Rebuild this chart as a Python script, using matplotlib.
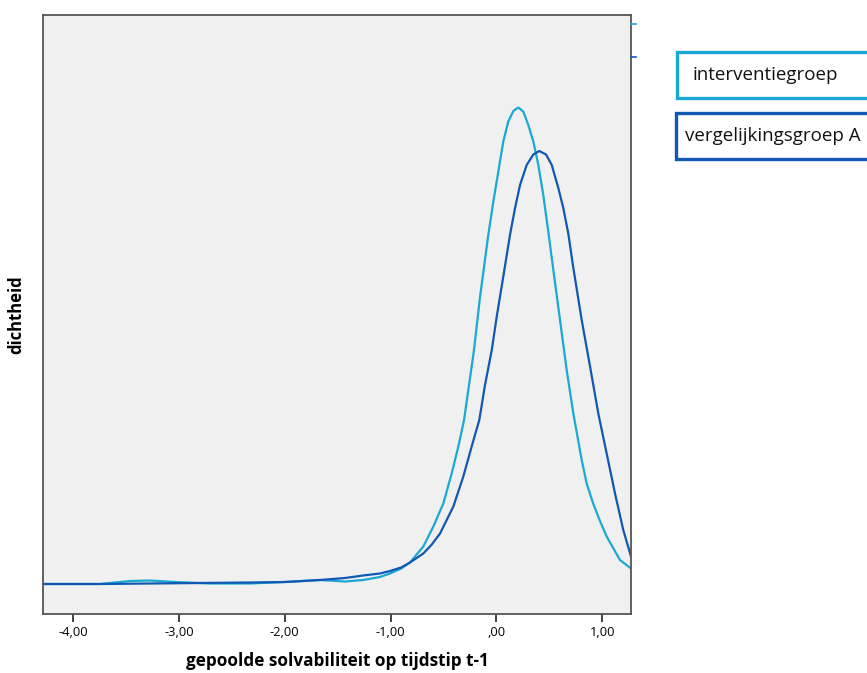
import matplotlib
matplotlib.use('Agg')
import matplotlib.pyplot as plt
from matplotlib.patches import Rectangle
from matplotlib.lines import Line2D

plt.rcParams['font.family'] = ['Open Sans', 'DejaVu Sans']

# kernel density curves (x = solvability, y = density)
interventie_x = [-4.282, -3.746, -3.462, -3.273, -3.037, -2.706, -2.328, -1.997, -1.666, -1.430,
                 -1.260, -1.100, -1.005, -0.900, -0.816, -0.690, -0.595, -0.501, -0.422, -0.359,
                 -0.305, -0.258, -0.211, -0.154, -0.076, -0.028, 0.019, 0.066, 0.113, 0.161,
                 0.208, 0.255, 0.302, 0.350, 0.397, 0.444, 0.491, 0.539, 0.602, 0.665,
                 0.728, 0.807, 0.854, 0.917, 0.980, 1.043, 1.169, 1.273]
interventie_y = [0.000, 0.000, 0.006, 0.007, 0.004, 0.001, 0.001, 0.004, 0.008, 0.005,
                 0.008, 0.014, 0.021, 0.031, 0.043, 0.075, 0.115, 0.161, 0.221, 0.275,
                 0.328, 0.398, 0.468, 0.574, 0.698, 0.765, 0.825, 0.885, 0.925, 0.946,
                 0.953, 0.945, 0.918, 0.885, 0.838, 0.778, 0.705, 0.628, 0.528, 0.428,
                 0.341, 0.248, 0.201, 0.160, 0.126, 0.095, 0.048, 0.031]

vergelijking_x = [-4.282, -3.746, -3.273, -2.801, -2.328, -1.997, -1.666, -1.430, -1.260, -1.100,
                  -1.005, -0.900, -0.816, -0.690, -0.610, -0.532, -0.406, -0.312, -0.233, -0.161,
                  -0.107, -0.043, 0.004, 0.066, 0.129, 0.177, 0.224, 0.287, 0.350, 0.406,
                  0.470, 0.524, 0.586, 0.633, 0.681, 0.728, 0.807, 0.886, 0.964, 1.043,
                  1.122, 1.200, 1.273]
vergelijking_y = [0.000, 0.000, 0.001, 0.002, 0.003, 0.004, 0.008, 0.012, 0.017, 0.021,
                  0.026, 0.033, 0.043, 0.061, 0.079, 0.101, 0.155, 0.215, 0.275, 0.328,
                  0.398, 0.468, 0.535, 0.615, 0.698, 0.752, 0.798, 0.838, 0.859, 0.866,
                  0.859, 0.838, 0.792, 0.752, 0.700, 0.632, 0.528, 0.435, 0.341, 0.261,
                  0.181, 0.108, 0.055]

xticks = [-4, -3, -2, -1, 0, 1]
xticklabels = ['-4,00', '-3,00', '-2,00', '-1,00', ',00', '1,00']
labels = ['interventiegroep', 'vergelijkingsgroep A']
light = '#1aa8d5'
dark = '#1158b2'

W, H = 867, 673
fig = plt.figure(figsize=(W / 100, H / 100), dpi=100)
ax = fig.add_axes([43.3 / W, 59 / H, 587.7 / W, 599 / H])
ax.set_facecolor('#f0f0f0')

ax.plot(interventie_x, interventie_y, color=light, lw=1.6, solid_joinstyle='round')
ax.plot(vergelijking_x, vergelijking_y, color=dark, lw=1.6, solid_joinstyle='round')

ax.set_xlim(-4.282, 1.273)
ax.set_ylim(-0.06, 1.138)
ax.set_xticks(xticks)
ax.set_xticklabels(xticklabels, fontsize=9.3)
ax.set_yticks([])
ax.tick_params(axis='x', length=5.5, width=1.3, color='#333333', pad=3.5)
for s in ax.spines.values():
    s.set_color('#555555')
    s.set_linewidth(1.3)

ax.set_xlabel('gepoolde solvabiliteit op tijdstip t-1', fontsize=12.3, fontweight='bold')
ax.xaxis.set_label_coords(0.5, -0.064)
ax.set_ylabel('dichtheid', fontsize=12, fontweight='bold')
ax.yaxis.set_label_coords(-0.03, 0.5)

# legend boxes at the right, partially clipped like the original
boxes = [(677, 52, 98, light, 693), (676, 113, 159, dark, 685)]
for (x0, y0, y1, c, tx), lab in zip(boxes, labels):
    fig.patches.append(Rectangle((x0 / W, 1 - y1 / H), (W + 10 - x0) / W, (y1 - y0) / H,
                                 transform=fig.transFigure, facecolor='white',
                                 edgecolor=c, lw=2.4, clip_on=False))
    fig.text(tx / W, 1 - (y0 + y1) / 2 / H, lab,
             fontsize=13.5, va='center', ha='left', color='#111111')

# small marks at the right edge of the frame
fig.lines.append(Line2D([631 / W, 636 / W], [1 - 24 / H, 1 - 24 / H], color=light, lw=1.2, transform=fig.transFigure))
fig.lines.append(Line2D([631 / W, 636 / W], [1 - 57 / H, 1 - 57 / H], color=dark, lw=1.2, transform=fig.transFigure))

fig.savefig('out.png', dpi=100, facecolor='white')
